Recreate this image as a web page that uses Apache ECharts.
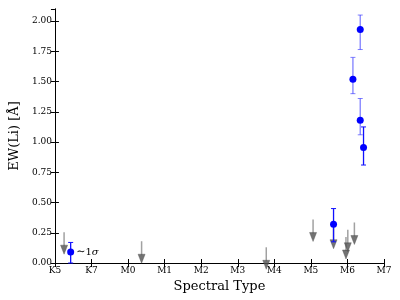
<!DOCTYPE html>
<html><head><meta charset="utf-8">
<script src="https://cdn.jsdelivr.net/npm/echarts@6/dist/echarts.min.js"></script>
<style>html,body{margin:0;padding:0;background:#fff}#c{width:400px;height:300px}</style>
</head><body><div id="c"></div>
<script>
// Spectral type tick labels (x positions 0..9)
var spectralTicks = ['K5','K7','M0','M1','M2','M3','M4','M5','M6','M7'];
// Detections: x (spectral index), EW(Li), lower and upper error bounds
var detX  = [0.43, 7.62, 8.15, 8.35, 8.35, 8.44];
var detY  = [0.09, 0.32, 1.52, 1.93, 1.18, 0.955];
var detLo = [0.00, 0.175, 1.40, 1.765, 1.06, 0.81];
var detHi = [0.17, 0.45, 1.70, 2.05, 1.36, 1.125];
// Upper limits: x, EW(Li) limit
var limX = [0.25, 2.37, 5.78, 7.06, 7.62, 7.96, 8.01, 8.19];
var limY = [0.255, 0.18, 0.13, 0.36, 0.30, 0.215, 0.275, 0.335];
var noteLabel = '1σ';

var serif = 'DejaVu Serif';
var chart = echarts.init(document.getElementById('c'), null, {renderer:'canvas'});

var ptData = detX.map(function(x,i){return [x, detY[i]];});
var errData = detX.map(function(x,i){return [x, detLo[i], detHi[i], detY[i]];});
var limData = limX.map(function(x,i){return [x, limY[i]];});

chart.setOption({
  animation:false,
  grid:{left:52, right:16, top:9, bottom:37},
  xAxis:[{
    type:'value', min:0, max:9, interval:1,
    name:'Spectral Type', nameLocation:'middle', nameGap:13,
    nameTextStyle:{fontFamily:serif, fontSize:13, color:'#000'},
    axisLine:{lineStyle:{color:'#000', width:1}},
    axisTick:{inside:true, length:4, lineStyle:{color:'#000'}},
    axisLabel:{fontFamily:serif, fontSize:9, color:'#000', margin:3,
      formatter:function(v){return spectralTicks[Math.round(v)];}},
    splitLine:{show:false}
  },{
    type:'value', min:0, max:9, interval:1, position:'top',
    axisLine:{lineStyle:{color:'#000', width:1}},
    axisTick:{inside:true, length:4, lineStyle:{color:'#000'}},
    axisLabel:{show:false}, splitLine:{show:false}
  }],
  yAxis:[{
    type:'value', min:0, max:2.1, interval:0.25,
    name:'EW(Li) [Å]', nameLocation:'middle', nameGap:31, nameRotate:90,
    nameTextStyle:{fontFamily:serif, fontSize:13, color:'#000'},
    axisLine:{show:true, lineStyle:{color:'#000', width:1}},
    axisTick:{inside:true, length:4, lineStyle:{color:'#000'}},
    axisLabel:{fontFamily:serif, fontSize:9, color:'#000', margin:3, showMaxLabel:false,
      formatter:function(v){return v.toFixed(2);}},
    splitLine:{show:false}
  },{
    type:'value', min:0, max:2.1, interval:0.25, position:'right',
    axisLine:{show:true, lineStyle:{color:'#000', width:1}},
    axisTick:{inside:true, length:4, lineStyle:{color:'#000'}},
    axisLabel:{show:false}, splitLine:{show:false}
  }],
  series:[
    {
      type:'custom', name:'limits', data:limData, z:2,
      renderItem:function(params, api){
        var p = api.coord([api.value(0), api.value(1)]);
        var len = 22, hw = 3.5, hh = 9;
        var tipY = p[1] + len;
        return {type:'group', children:[
          {type:'line', shape:{x1:p[0], y1:p[1], x2:p[0], y2:tipY - hh + 1},
            style:{stroke:'rgba(110,110,110,0.65)', lineWidth:1.5}},
          {type:'polygon', shape:{points:[[p[0]-hw, tipY-hh],[p[0]+hw, tipY-hh],[p[0], tipY]]},
            style:{fill:'rgba(80,80,80,0.8)', stroke:'rgba(80,80,80,0.8)', lineWidth:0.5}}
        ]};
      }
    },
    {
      type:'custom', name:'errors', data:errData, z:3,
      renderItem:function(params, api){
        var x = api.value(0);
        var lo = api.coord([x, api.value(1)]);
        var hi = api.coord([x, api.value(2)]);
        var faint = api.value(3) > 1.0;
        var col = faint ? 'rgba(60,60,255,0.65)' : '#1010ff';
        var cw = 2.5;
        return {type:'group', children:[
          {type:'line', shape:{x1:lo[0], y1:lo[1], x2:hi[0], y2:hi[1]}, style:{stroke:col, lineWidth:1.3}},
          {type:'line', shape:{x1:hi[0]-cw, y1:hi[1], x2:hi[0]+cw, y2:hi[1]}, style:{stroke:col, lineWidth:1}},
          {type:'line', shape:{x1:lo[0]-cw, y1:lo[1], x2:lo[0]+cw, y2:lo[1]}, style:{stroke:col, lineWidth:1}}
        ]};
      }
    },
    {
      type:'scatter', name:'detections', data:ptData, z:4,
      symbol:'circle', symbolSize:7,
      itemStyle:{color:'#0000ff', opacity:1},
      label:{show:true, position:'right', distance:2,
        formatter:function(p){return p.dataIndex===0 ? '{a|∼}{b|'+noteLabel.charAt(0)+'}{c|'+noteLabel.slice(1)+'}' : '';},
        rich:{
          a:{fontFamily:serif, fontSize:11, color:'#000'},
          b:{fontFamily:serif, fontSize:10, color:'#000'},
          c:{fontFamily:serif, fontSize:10, color:'#000', fontStyle:'italic'}
        }
      }
    }
  ]
});
</script></body></html>
